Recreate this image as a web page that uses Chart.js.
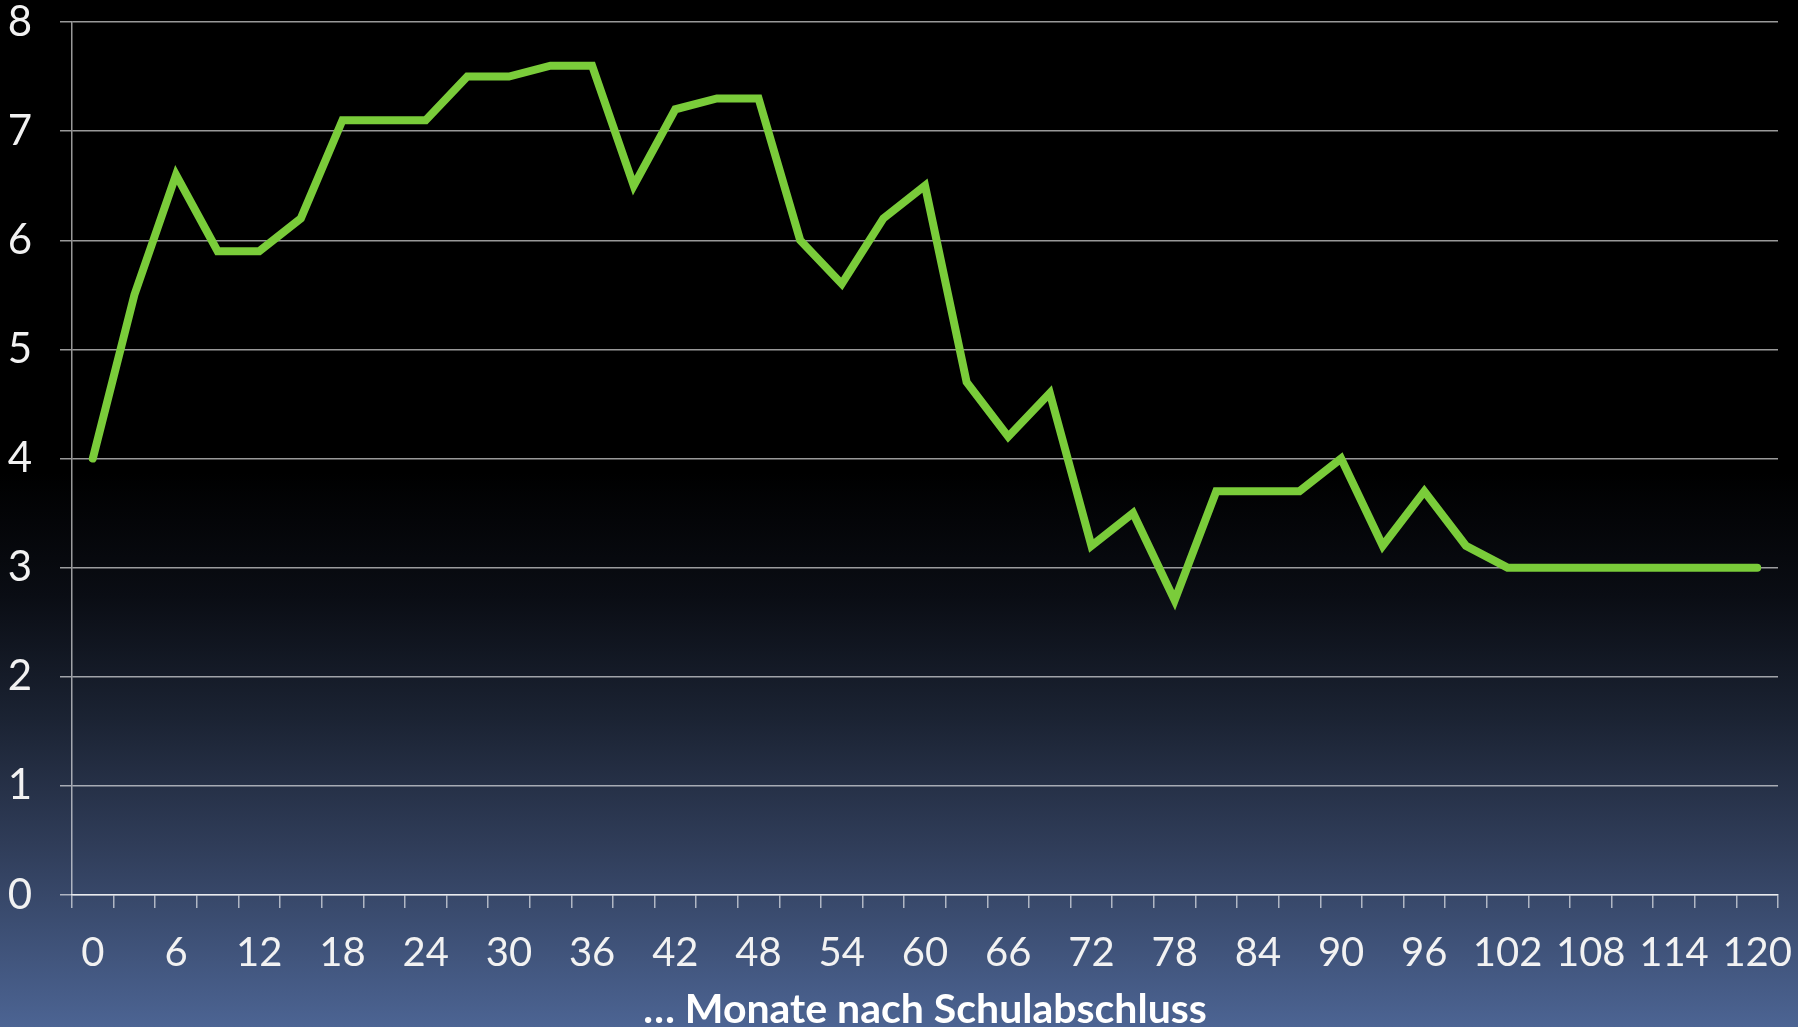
<!DOCTYPE html>
<html lang="de">
<head>
<meta charset="utf-8">
<title>Monate nach Schulabschluss</title>
<script src="https://cdn.jsdelivr.net/npm/chart.js@4.4.1/dist/chart.umd.min.js"></script>
<style>
  html, body { margin: 0; padding: 0; }
  body {
    width: 1798px; height: 1027px; overflow: hidden;
    background: linear-gradient(to bottom,
      #000000 0%, #000000 46%, #0a0d14 58%, #1b2333 70%, #2f3c58 82%, #4c6493 100%);
  }
  #wrap { position: relative; width: 1798px; height: 1027px; }
  canvas { display: block; }
</style>
</head>
<body>
<div id="wrap"><canvas id="chart" width="1798" height="1027"></canvas></div>
<script>
// Months after leaving school (one category every 3 months)
const months = [0, 3, 6, 9, 12, 15, 18, 21, 24, 27, 30, 33, 36, 39, 42, 45, 48, 51, 54, 57,
                60, 63, 66, 69, 72, 75, 78, 81, 84, 87, 90, 93, 96, 99, 102, 105, 108, 111, 114, 117, 120];

// Series values per category
const values = [4.0, 5.5, 6.6, 5.9, 5.9, 6.2, 7.1, 7.1, 7.1, 7.5, 7.5, 7.6, 7.6, 6.5, 7.2, 7.3, 7.3, 6.0, 5.6, 6.2,
                6.5, 4.7, 4.2, 4.6, 3.2, 3.5, 2.7, 3.7, 3.7, 3.7, 4.0, 3.2, 3.7, 3.2, 3.0, 3.0, 3.0, 3.0, 3.0, 3.0, 3.0];

// Tick labels shown on the x axis (every 6 months)
const xTickLabels = ['0', '6', '12', '18', '24', '30', '36', '42', '48', '54', '60', '66', '72', '78',
                     '84', '90', '96', '102', '108', '114', '120'];

// Tick labels on the y axis
const yTickLabels = ['0', '1', '2', '3', '4', '5', '6', '7', '8'];

const axisTitle = '\u2026 Monate nach Schulabschluss';

const FONT = "Lato, 'Open Sans', 'DejaVu Sans', sans-serif";
const gridColor = 'rgba(255,255,255,0.6)';

new Chart(document.getElementById('chart'), {
  type: 'line',
  data: {
    labels: months.map(String),
    datasets: [{
      data: values,
      borderColor: '#7acc3a',
      borderWidth: 8,
      borderJoinStyle: 'miter',
      borderCapStyle: 'round',
      pointRadius: 0,
      tension: 0,
      fill: false
    }]
  },
  options: {
    responsive: false,
    animation: false,
    layout: { padding: { left: 0, right: 20, top: 22, bottom: 0 } },
    plugins: { legend: { display: false }, tooltip: { enabled: false } },
    scales: {
      x: {
        type: 'category',
        offset: true,
        afterFit: function (scale) {
          scale.height = 132;
          scale.paddingLeft = 0;
          scale.paddingRight = 0;
        },
        grid: {
          offset: true,
          drawOnChartArea: false,
          drawTicks: true,
          tickLength: 13,
          color: gridColor,
          lineWidth: 1.5
        },
        border: { display: true, color: 'rgba(255,255,255,0.75)', width: 1.5 },
        ticks: {
          autoSkip: false,
          maxRotation: 0,
          padding: 21,
          color: '#f2f2f2',
          font: { family: FONT, size: 40 },
          callback: function (val, idx) {
            const m = months[idx];
            const pos = xTickLabels.indexOf(String(m));
            return pos >= 0 ? xTickLabels[pos] : '';
          }
        },
        title: {
          display: true,
          text: axisTitle,
          color: '#ffffff',
          font: { family: FONT, size: 41, weight: 'bold', lineHeight: 1.0 },
          padding: { top: 0, bottom: -3 }
        }
      },
      y: {
        min: 0,
        max: 8,
        afterFit: function (scale) {
          scale.width = 72;
          scale.paddingTop = 0;
          scale.paddingBottom = 0;
        },
        grid: {
          color: gridColor,
          lineWidth: 1.5,
          drawTicks: true,
          tickLength: 12
        },
        border: { display: true, color: gridColor, width: 1.5 },
        ticks: {
          stepSize: 1,
          padding: 28,
          color: '#f2f2f2',
          font: { family: FONT, size: 42 },
          callback: function (val) { return yTickLabels[val]; }
        }
      }
    }
  }
});
</script>
</body>
</html>
